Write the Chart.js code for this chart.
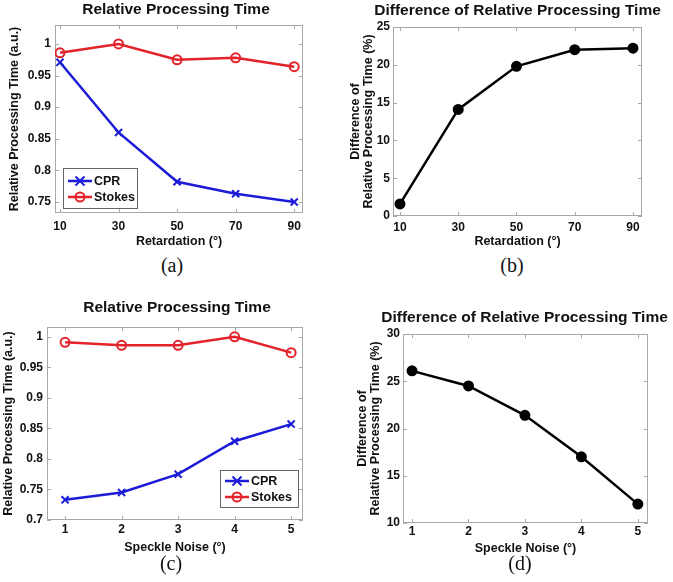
<!DOCTYPE html>
<html>
<head>
<meta charset="utf-8">
<script src="https://cdn.jsdelivr.net/npm/chart.js@4/dist/chart.umd.min.js"></script>
<style>
  html, body { margin: 0; padding: 0; background: #fff; }
  body { width: 673px; height: 582px; position: relative; overflow: hidden; }
  .box { position: absolute; }
  .cap { position: absolute; font-family: "Liberation Serif", "Times New Roman", serif; font-size: 20px; color: #111; transform: translate(-50%, -50%); }
</style>
</head>
<body>
<div class="box" style="left:0px;top:0px;width:310px;height:250px"><canvas id="chartA"></canvas></div>
<div class="box" style="left:340px;top:0px;width:333px;height:250px"><canvas id="chartB"></canvas></div>
<div class="box" style="left:0px;top:290px;width:310px;height:266px"><canvas id="chartC"></canvas></div>
<div class="box" style="left:340px;top:290px;width:333px;height:266px"><canvas id="chartD"></canvas></div>
<div class="cap" style="left:172px;top:265px">(a)</div>
<div class="cap" style="left:512px;top:265px">(b)</div>
<div class="cap" style="left:171px;top:563px">(c)</div>
<div class="cap" style="left:520px;top:563px">(d)</div>
<script>
// values
const xRetardation = [10, 30, 50, 70, 90];
const cprRetardation = [0.971, 0.860, 0.782, 0.763, 0.750];
const stokesRetardation = [0.986, 1.000, 0.975, 0.978, 0.964];
const diffRetardation = [1.6, 14.1, 19.8, 22.0, 22.2];

const xNoise = [1, 2, 3, 4, 5];
const cprNoise = [0.733, 0.745, 0.775, 0.829, 0.857];
const stokesNoise = [0.991, 0.986, 0.986, 1.000, 0.974];
const diffNoise = [26.1, 24.5, 21.4, 17.0, 12.0];

const yTicksA = [0.75, 0.8, 0.85, 0.9, 0.95, 1];
const yTicksB = [0, 5, 10, 15, 20, 25];
const yTicksC = [0.7, 0.75, 0.8, 0.85, 0.9, 0.95, 1];
const yTicksD = [10, 15, 20, 25, 30];

const BLUE = '#1b1bd8';
const RED = '#e3222a';
const BLACK = '#000000';
const FONT = '"Liberation Sans", Arial, Helvetica, sans-serif';

Chart.defaults.font.family = FONT;
Chart.defaults.font.weight = 'bold';
Chart.defaults.font.size = 12;
Chart.defaults.color = '#111';

// box round the plot with small inward ticks, like the original
const framePlugin = {
    id: 'frame',
    beforeDatasetsDraw(chart) {
        const { ctx, chartArea: a, scales: { x, y } } = chart;
        const tl = 4;
        ctx.save();
        ctx.strokeStyle = '#a8a8a8';
        ctx.lineWidth = 1;
        ctx.strokeRect(a.left + 0.5, a.top + 0.5, a.width - 1, a.height - 1);
        ctx.beginPath();
        x.ticks.forEach(t => {
            const px = Math.round(x.getPixelForValue(t.value)) + 0.5;
            ctx.moveTo(px, a.bottom); ctx.lineTo(px, a.bottom - tl);
            ctx.moveTo(px, a.top); ctx.lineTo(px, a.top + tl);
        });
        y.ticks.forEach(t => {
            const py = Math.round(y.getPixelForValue(t.value)) + 0.5;
            ctx.moveTo(a.left, py); ctx.lineTo(a.left + tl, py);
            ctx.moveTo(a.right, py); ctx.lineTo(a.right - tl, py);
        });
        ctx.stroke();
        ctx.restore();
    }
};

// title over the plot; drawn by hand so it is not squeezed to the plot width
const plotTitlePlugin = {
    id: 'plotTitle',
    afterDraw(chart, args, opts) {
        const { ctx, chartArea: a } = chart;
        ctx.save();
        ctx.font = 'bold 15.5px ' + FONT;
        ctx.fillStyle = '#111';
        ctx.textAlign = 'center';
        ctx.textBaseline = 'middle';
        ctx.fillText(opts.text, (a.left + a.right) / 2 + opts.dx, a.top - opts.rise);
        ctx.restore();
    }
};

function drawMarker(ctx, style, x, y, r) {
    ctx.beginPath();
    if (style === 'crossRot') {
        ctx.moveTo(x - r, y - r); ctx.lineTo(x + r, y + r);
        ctx.moveTo(x - r, y + r); ctx.lineTo(x + r, y - r);
    } else {
        ctx.arc(x, y, r, 0, Math.PI * 2);
    }
    ctx.stroke();
}

// legend box inside the plot area
const boxLegendPlugin = {
    id: 'boxLegend',
    afterDatasetsDraw(chart, args, opts) {
        if (!opts || !opts.display) return;
        const { ctx, chartArea: a } = chart;
        const left = opts.left != null ? a.left + opts.left : a.right - opts.right - opts.width;
        const top = a.bottom - opts.bottom - opts.height;
        ctx.save();
        ctx.fillStyle = '#fff';
        ctx.fillRect(left, top, opts.width, opts.height);
        ctx.strokeStyle = '#666';
        ctx.lineWidth = 1;
        ctx.strokeRect(Math.round(left) + 0.5, Math.round(top) + 0.5, opts.width, opts.height);
        chart.data.datasets.forEach((ds, i) => {
            const yy = top + opts.rows[i];
            ctx.strokeStyle = ds.borderColor;
            ctx.lineWidth = 2.5;
            ctx.beginPath();
            ctx.moveTo(left + 5, yy); ctx.lineTo(left + 29, yy);
            ctx.stroke();
            ctx.lineWidth = 2;
            drawMarker(ctx, ds.pointStyle, left + 17, yy, 4.5);
            ctx.fillStyle = '#111';
            ctx.font = 'bold 12.5px ' + FONT;
            ctx.textBaseline = 'middle';
            ctx.fillText(ds.label, left + 31, yy + 0.5);
        });
        ctx.restore();
    }
};

function makeChart(id, cfg) {
    const canvas = document.getElementById(id);
    return new Chart(canvas.getContext('2d'), {
        type: 'line',
        data: {
            datasets: cfg.series.map(s => ({
                label: s.label,
                data: cfg.xs.map((xv, i) => ({ x: xv, y: s.data[i] })),
                borderColor: s.color,
                backgroundColor: s.fill ? s.color : 'rgba(0,0,0,0)',
                pointBackgroundColor: s.fill ? s.color : 'rgba(0,0,0,0)',
                pointBorderColor: s.color,
                pointStyle: s.style,
                pointRadius: s.radius,
                pointBorderWidth: 2,
                borderWidth: 2.5,
                tension: 0,
                fill: false
            }))
        },
        options: {
            responsive: true,
            maintainAspectRatio: false,
            animation: false,
            layout: { padding: { top: cfg.padTop, right: cfg.padRight, bottom: 0, left: 0 } },
            plugins: {
                legend: { display: false },
                tooltip: { enabled: false },
                title: { display: false },
                plotTitle: { text: cfg.title, dx: cfg.titleDx, rise: cfg.titleRise },
                boxLegend: cfg.legend || { display: false }
            },
            scales: {
                x: {
                    type: 'linear',
                    min: cfg.xMin,
                    max: cfg.xMax,
                    grid: { display: false, drawTicks: false, tickLength: 0 },
                    border: { display: false },
                    afterBuildTicks: sc => { sc.ticks = cfg.xs.map(v => ({ value: v })); },
                    afterFit: sc => { sc.height = cfg.xH; },
                    ticks: { padding: cfg.xTickPad, callback: v => String(v), maxRotation: 0 },
                    title: { display: true, text: cfg.xTitle, font: { size: 12.5, weight: 'bold' }, padding: { top: 0, bottom: cfg.xTitlePad } }
                },
                y: {
                    min: cfg.yMin,
                    max: cfg.yMax,
                    grid: { display: false, drawTicks: false, tickLength: 0 },
                    border: { display: false },
                    afterBuildTicks: sc => { sc.ticks = cfg.yTicks.map(v => ({ value: v })); },
                    afterFit: sc => { sc.width = cfg.yW; },
                    ticks: { padding: cfg.yTickPad, callback: v => String(v) },
                    title: {
                        display: true,
                        text: cfg.yTitle,
                        font: { size: 12.5, weight: 'bold', lineHeight: 1.05 },
                        padding: { top: cfg.yTitlePad, bottom: 0 }
                    }
                }
            }
        },
        plugins: [framePlugin, boxLegendPlugin, plotTitlePlugin]
    });
}

makeChart('chartA', {
    xs: xRetardation,
    series: [
        { label: 'CPR', data: cprRetardation, color: BLUE, style: 'crossRot', radius: 5 },
        { label: 'Stokes', data: stokesRetardation, color: RED, style: 'circle', radius: 4.5 }
    ],
    xMin: 8.3, xMax: 93, yMin: 0.7326, yMax: 1.03, yTicks: yTicksA,
    title: 'Relative Processing Time', titleDx: -3, titleRise: 15, padTop: 25,
    xTitle: 'Retardation (°)', xTitlePad: 1, xTickPad: 6, xH: 37,
    yTitle: 'Relative Processing Time (a.u.)', yTitlePad: 8, yTickPad: 4, yW: 55,
    padRight: 6,
    legend: { display: true, left: 8, bottom: 5, width: 74, height: 40, rows: [13, 29] }
});

makeChart('chartB', {
    xs: xRetardation,
    series: [
        { label: 'Difference', data: diffRetardation, color: BLACK, style: 'circle', radius: 4.5, fill: true }
    ],
    xMin: 7.6, xMax: 93.1, yMin: 0, yMax: 25, yTicks: yTicksB,
    title: 'Difference of Relative Processing Time', titleDx: 0, titleRise: 16, padTop: 27,
    xTitle: 'Retardation (°)', xTitlePad: 1, xTickPad: 4, xH: 34,
    yTitle: ['Difference of', 'Relative Processing Time (%)'], yTitlePad: 8.5, yTickPad: 3, yW: 53,
    padRight: 31
});

makeChart('chartC', {
    xs: xNoise,
    series: [
        { label: 'CPR', data: cprNoise, color: BLUE, style: 'crossRot', radius: 5 },
        { label: 'Stokes', data: stokesNoise, color: RED, style: 'circle', radius: 4.5 }
    ],
    xMin: 0.68, xMax: 5.21, yMin: 0.7, yMax: 1.016, yTicks: yTicksC,
    title: 'Relative Processing Time', titleDx: 2, titleRise: 19, padTop: 37,
    xTitle: 'Speckle Noise (°)', xTitlePad: 1, xTickPad: 2, xH: 36,
    yTitle: 'Relative Processing Time (a.u.)', yTitlePad: 2, yTickPad: 4, yW: 47,
    padRight: 5,
    legend: { display: true, right: 5, bottom: 13, width: 78, height: 37, rows: [11, 27] }
});

makeChart('chartD', {
    xs: xNoise,
    series: [
        { label: 'Difference', data: diffNoise, color: BLACK, style: 'circle', radius: 4.5, fill: true }
    ],
    xMin: 0.84, xMax: 5.18, yMin: 10, yMax: 30, yTicks: yTicksD,
    title: 'Difference of Relative Processing Time', titleDx: -1, titleRise: 16, padTop: 44,
    xTitle: 'Speckle Noise (°)', xTitlePad: 0, xTickPad: 1, xH: 33,
    yTitle: ['Difference of', 'Relative Processing Time (%)'], yTitlePad: 15.5, yTickPad: 3, yW: 63,
    padRight: 25
});
</script>
</body>
</html>
